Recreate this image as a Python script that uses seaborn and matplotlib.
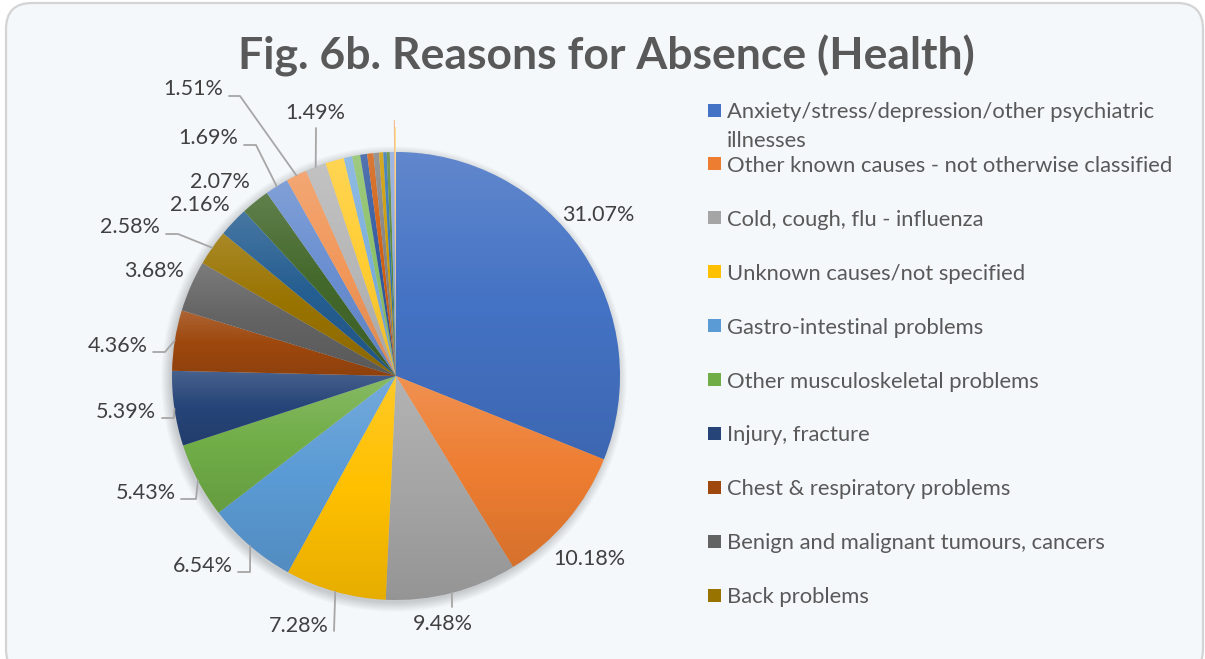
import matplotlib.pyplot as plt
import seaborn as sns
import numpy as np
from matplotlib.patches import FancyBboxPatch, Rectangle, Circle

W, H = 1205, 659

# legend shows only the first ten categories (as in the source chart)
categories = [
    "Anxiety/stress/depression/other psychiatric\nillnesses",
    "Other known causes - not otherwise classified",
    "Cold, cough, flu - influenza",
    "Unknown causes/not specified",
    "Gastro-intestinal problems",
    "Other musculoskeletal problems",
    "Injury, fracture",
    "Chest & respiratory problems",
    "Benign and malignant tumours, cancers",
    "Back problems",
]
# share of absence (%), all 27 slices
values = [31.07, 10.18, 9.48, 7.28, 6.54, 5.43, 5.39, 4.36, 3.68, 2.58,
          2.16, 2.07, 1.69, 1.51, 1.49, 1.35, 0.60, 0.58, 0.50, 0.45,
          0.40, 0.30, 0.25, 0.22, 0.30, 0.08, 0.06]
n_labelled = 15

slice_colors = [
    "#4472C4", "#ED7D31", "#A5A5A5", "#FFC000", "#5B9BD5", "#70AD47",
    "#264478", "#9E480E", "#636363", "#997300", "#255E91", "#43682B",
    "#698ED0", "#F1975A", "#B7B7B7", "#FFCD33", "#7CAFDD", "#8CC168",
    "#335AA1", "#D26012", "#848484", "#CC9A00", "#3275B3", "#5A8A39",
    "#8FAADC", "#F4B183", "#FFD966",
]
explode = [0] * 25 + [32, 25]

sns.set_theme(style="white")
plt.rcParams['font.family'] = ['Lato', 'DejaVu Sans']

fig = plt.figure(figsize=(W / 100, H / 100), dpi=100)
fig.patch.set_facecolor("white")
ax = fig.add_axes([0, 0, 1, 1])


def py(y):
    # pixel row (from top) -> data y
    return H - y


# chart card
card = FancyBboxPatch((6, py(675)), 1197, 672,
                      boxstyle="round,pad=0,rounding_size=26",
                      fc="#F5F8FB", ec="#D4D4D4", lw=1.6, zorder=0)
ax.add_patch(card)

cx, cy, R = 396, py(376), 224

# soft shadow behind the pie
for k in range(9):
    ax.add_patch(Circle((cx - 2, cy - 3), R + k * 1.1, color="black",
                        alpha=0.018, lw=0, zorder=1))

wedges, _ = ax.pie(values, colors=sns.color_palette(slice_colors),
                   startangle=90, counterclock=False, center=(cx, cy),
                   radius=R, explode=explode, frame=True,
                   wedgeprops=dict(linewidth=0, zorder=2))

# Excel-like per-slice gradient: lighter on top, a bit darker at the bottom
t = np.linspace(0, 1, 128)
grad = np.zeros((128, 1, 4))
upper = t < 0.5
grad[upper, 0, :3] = 1.0
grad[upper, 0, 3] = 0.16 * (1 - 2 * t[upper])
grad[~upper, 0, :3] = 0.0
grad[~upper, 0, 3] = 0.10 * (2 * t[~upper] - 1)
for w in wedges:
    bb = w.get_path().get_extents(w.get_patch_transform())
    im = ax.imshow(grad, extent=(bb.x0, bb.x1, bb.y0, bb.y1), origin="upper",
                   interpolation="bilinear", zorder=3, aspect="auto")
    im.set_clip_path(w)

# percentage labels: text centre + leader line start points (pixels)
label_layout = [
    (598, 215, None),
    (589, 559, None),
    (443, 624, [(452, 607)]),
    (299, 626, [(334, 631)]),
    (203, 566, [(238, 572), (250, 572)]),
    (146, 493, [(181, 499), (196, 499)]),
    (126, 412, [(162, 418), (174, 418)]),
    (118, 346, [(153, 352), (165, 352)]),
    (154, 271, None),
    (130, 227, [(166, 234), (178, 234)]),
    (200, 205, None),
    (220, 182, None),
    (208, 138, [(244, 145), (256, 145)]),
    (193, 89, [(229, 96), (240, 96)]),
    (315, 113, [(316, 128)]),
]

for i in range(n_labelled):
    x, y, line = label_layout[i]
    ax.text(x, py(y), f"{values[i]:.2f}%", ha="center", va="center",
            fontsize=15.5, color="#404040", zorder=5)
    if line is not None:
        w = wedges[i]
        mid = np.deg2rad((w.theta1 + w.theta2) / 2)
        ex, ey = cx + R * np.cos(mid), cy + R * np.sin(mid)
        xs = [p[0] for p in line] + [ex]
        ys = [py(p[1]) for p in line] + [ey]
        ax.plot(xs, ys, color="#A6A6A6", lw=1.3, zorder=4)

# legend (first line of every entry on a fixed 54 px step, wrapped lines 29 px)
for i, name in enumerate(categories):
    y = 110 + i * 53.9
    ax.add_patch(Rectangle((708, py(y) - 6.5), 13, 13,
                           color=slice_colors[i], lw=0, zorder=5))
    for j, part in enumerate(name.split("\n")):
        ax.text(727, py(y + 8 + j * 29), part, ha="left", va="baseline",
                fontsize=15.8, color="#595959", zorder=5)

ax.text(606, py(56), "Fig. 6b. Reasons for Absence (Health)", ha="center",
        va="center", fontsize=32, fontweight="bold", color="#595959")

ax.set_xlim(0, W)
ax.set_ylim(0, H)
ax.set_aspect("auto")
ax.axis("off")

plt.savefig("out.png", dpi=100, facecolor="white")
plt.close()
